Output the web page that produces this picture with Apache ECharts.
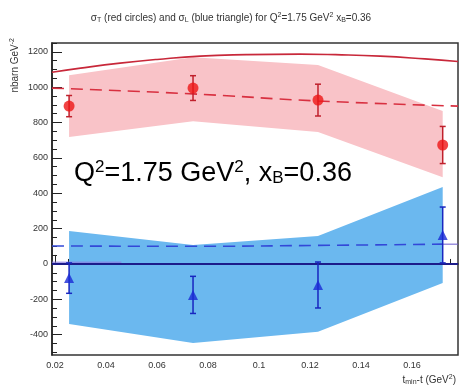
<!DOCTYPE html>
<html><head><meta charset="utf-8">
<script src="https://cdn.jsdelivr.net/npm/echarts@6/dist/echarts.min.js"></script>
<style>html,body{margin:0;padding:0;background:#fff}#c{width:462px;height:390px}</style>
</head><body><div id="c"></div>
<script>
// data
const tValues = [0.0255, 0.0741, 0.1231, 0.172];
const sigmaT = [893, 995, 927, 673];
const sigmaTErr = [60, 70, 90, 105];
const sigmaL = [-80, -175, -119, 164];
const sigmaLErr = [86, 105, 130, 158];
const bandTUpper = [1068, 1170, 1125, 865];
const bandTLower = [718, 808, 746, 490];
const bandLUpper = [186, 107, 158, 435];
const bandLLower = [-339, -447, -384, -107];
const modelTSolidX = [0.0188, 0.03, 0.0455, 0.06, 0.0769, 0.095, 0.116, 0.13, 0.1475, 0.165, 0.178];
const modelTSolidY = [1085, 1108, 1136, 1157, 1176, 1184, 1187, 1184, 1176, 1160, 1145];
const modelTDashX = [0.0188, 0.0741, 0.1231, 0.178];
const modelTDashY = [995, 962, 922, 893];
const modelLDashX = [0.0188, 0.0741, 0.1231, 0.172];
const modelLDashY = [102, 100, 105, 112];
const xTickLabels = [0.02, 0.04, 0.06, 0.08, 0.1, 0.12, 0.14, 0.16];
const xMinorTicks = [];
for (let i = 0; i <= 31; i++) xMinorTicks.push(+(0.02 + i * 0.005).toFixed(3));
const yTickLabels = [-400, -200, 0, 200, 400, 600, 800, 1000, 1200];
const yMinorTicks = [];
for (let v = -500; v <= 1250; v += 50) yMinorTicks.push(v);

const X_MIN = 0.0188, X_MAX = 0.178, Y_MIN = -515, Y_MAX = 1250;

function zip(xs, ys) { return xs.map((x, i) => [x, ys[i]]); }

function bandSeries(upper, lower, color) {
  return {
    type: 'custom', xAxisIndex: 0, yAxisIndex: 0, z: 1, silent: true,
    data: [0],
    renderItem: function (params, api) {
      const pts = [];
      tValues.forEach((t, i) => pts.push(api.coord([t, upper[i]])));
      for (let i = tValues.length - 1; i >= 0; i--) pts.push(api.coord([tValues[i], lower[i]]));
      return { type: 'polygon', shape: { points: pts }, style: { fill: color } };
    }
  };
}

function errSeries(vals, errs, color) {
  return {
    type: 'custom', xAxisIndex: 0, yAxisIndex: 0, z: 5, silent: true,
    data: tValues.map((t, i) => [t, vals[i] - errs[i], vals[i] + errs[i]]),
    renderItem: function (params, api) {
      const lo = api.coord([api.value(0), api.value(1)]);
      const hi = api.coord([api.value(0), api.value(2)]);
      const w = 3;
      const st = { stroke: color, lineWidth: 1.5 };
      return { type: 'group', children: [
        { type: 'line', shape: { x1: lo[0], y1: lo[1], x2: hi[0], y2: hi[1] }, style: st },
        { type: 'line', shape: { x1: lo[0] - w, y1: lo[1], x2: lo[0] + w, y2: lo[1] }, style: st },
        { type: 'line', shape: { x1: hi[0] - w, y1: hi[1], x2: hi[0] + w, y2: hi[1] }, style: st }
      ]};
    }
  };
}

const chart = echarts.init(document.getElementById('c'), null, { renderer: 'canvas' });
const axisColor = '#222';
chart.setOption({
  animation: false,
  backgroundColor: '#fff',
  title: {
    text: 'σ{s|T} (red circles) and σ{s|L} (blue triangle) for Q{u|2}=1.75 GeV{u|2} x{s|B}=0.36',
    left: 'center', top: 7,
    textStyle: { fontSize: 10, fontWeight: 'normal', color: '#333', fontFamily: 'Liberation Sans',
      rich: { s: { fontSize: 7, padding: [5, 0, 0, 0], color: '#333' }, u: { fontSize: 7, padding: [0, 0, 5, 0], color: '#333' } } }
  },
  grid: { left: 52, right: 4, top: 43, bottom: 35, show: true, borderColor: '#333', borderWidth: 1.5 },
  xAxis: [{
    type: 'value', min: X_MIN, max: X_MAX, position: 'bottom',
    axisLine: { show: true, lineStyle: { color: axisColor, width: 1.5 } },
    axisTick: { show: true, inside: true, length: 9, customValues: xTickLabels, lineStyle: { color: axisColor } },
    axisLabel: { customValues: xTickLabels, color: '#333', fontSize: 9, fontFamily: 'Liberation Sans', margin: 6,
      formatter: v => String(+v.toFixed(3)) },
    splitLine: { show: false }
  }, {
    type: 'value', min: X_MIN, max: X_MAX, position: 'bottom',
    axisLine: { show: false },
    axisTick: { show: true, inside: true, length: 5, customValues: xMinorTicks, lineStyle: { color: axisColor } },
    axisLabel: { show: false }, splitLine: { show: false }
  }],
  yAxis: [{
    type: 'value', min: Y_MIN, max: Y_MAX,
    axisLine: { show: true, lineStyle: { color: axisColor, width: 1.5 } },
    axisTick: { show: true, inside: true, length: 10, customValues: yTickLabels, lineStyle: { color: axisColor } },
    axisLabel: { customValues: yTickLabels, color: '#333', fontSize: 9, fontFamily: 'Liberation Sans', margin: 4,
      formatter: v => String(Math.round(v)) },
    splitLine: { show: false }
  }, {
    type: 'value', min: Y_MIN, max: Y_MAX, position: 'left',
    axisLine: { show: false },
    axisTick: { show: true, inside: true, length: 5, customValues: yMinorTicks, lineStyle: { color: axisColor } },
    axisLabel: { show: false }, splitLine: { show: false }
  }],
  graphic: [
    { type: 'text', left: 74, top: 159, z: 100,
      style: { text: '{a|Q}{u|2}{a|=1.75 GeV}{u|2}{a|, x}{d|B}{a|=0.36}', fill: '#000',
        rich: { a: { fontSize: 27, fontFamily: 'Liberation Sans', fill: '#000' },
                u: { fontSize: 17, fontFamily: 'Liberation Sans', padding: [0, 0, 12, 0], fill: '#000' },
                d: { fontSize: 17, fontFamily: 'Liberation Sans', padding: [10, 0, 0, 0], fill: '#000' } } } },
    { type: 'text', left: 9, top: 38, rotation: Math.PI / 2, z: 100,
      style: { text: 'nbarn GeV{u|-2}', fill: '#333',
        rich: { u: { fontSize: 7, padding: [0, 0, 5, 0] } }, fontSize: 10, fontFamily: 'Liberation Sans' } },
    { type: 'text', right: 6, top: 374, z: 100,
      style: { text: 't{d|min}-t (GeV{u|2})', fill: '#333', fontSize: 10, fontFamily: 'Liberation Sans',
        rich: { d: { fontSize: 7, padding: [5, 0, 0, 0] }, u: { fontSize: 7, padding: [0, 0, 5, 0] } } } }
  ],
  series: [
    bandSeries(bandTUpper, bandTLower, '#f9c3c8'),
    bandSeries(bandLUpper, bandLLower, '#6bb8ef'),
    { type: 'line', data: zip(modelTSolidX, modelTSolidY), smooth: true, symbol: 'none', z: 3,
      lineStyle: { color: '#c8283a', width: 1.6 } },
    { type: 'line', data: zip(modelTDashX, modelTDashY), smooth: true, symbol: 'none', z: 3,
      lineStyle: { color: '#d83040', width: 1.6, type: [12, 7] } },
    { type: 'line', data: zip(modelLDashX, modelLDashY), smooth: true, symbol: 'none', z: 3,
      lineStyle: { color: '#3348d8', width: 1.6, type: [12, 7] } },
    { type: 'line', data: [[0.172, 112], [X_MAX, 112]], symbol: 'none', z: 3,
      lineStyle: { color: '#6a5acd', width: 1 } },
    { type: 'line', data: [[X_MIN, 10], [0.046, 10]], symbol: 'none', z: 3,
      lineStyle: { color: '#8a7ae0', width: 1 } },
    { type: 'line', data: [[X_MIN, 0], [X_MAX, 0]], symbol: 'none', z: 3,
      lineStyle: { color: '#1c1c8a', width: 2 } },
    errSeries(sigmaT, sigmaTErr, '#c0202c'),
    errSeries(sigmaL, sigmaLErr, '#1826c0'),
    { type: 'scatter', data: zip(tValues, sigmaT), symbol: 'circle', symbolSize: 11, z: 6,
      itemStyle: { color: '#ee1515' } },
    { type: 'scatter', data: zip(tValues, sigmaL), symbol: 'triangle', symbolSize: 10, z: 6,
      itemStyle: { color: '#1a2ad6' } }
  ]
});
</script></body></html>
